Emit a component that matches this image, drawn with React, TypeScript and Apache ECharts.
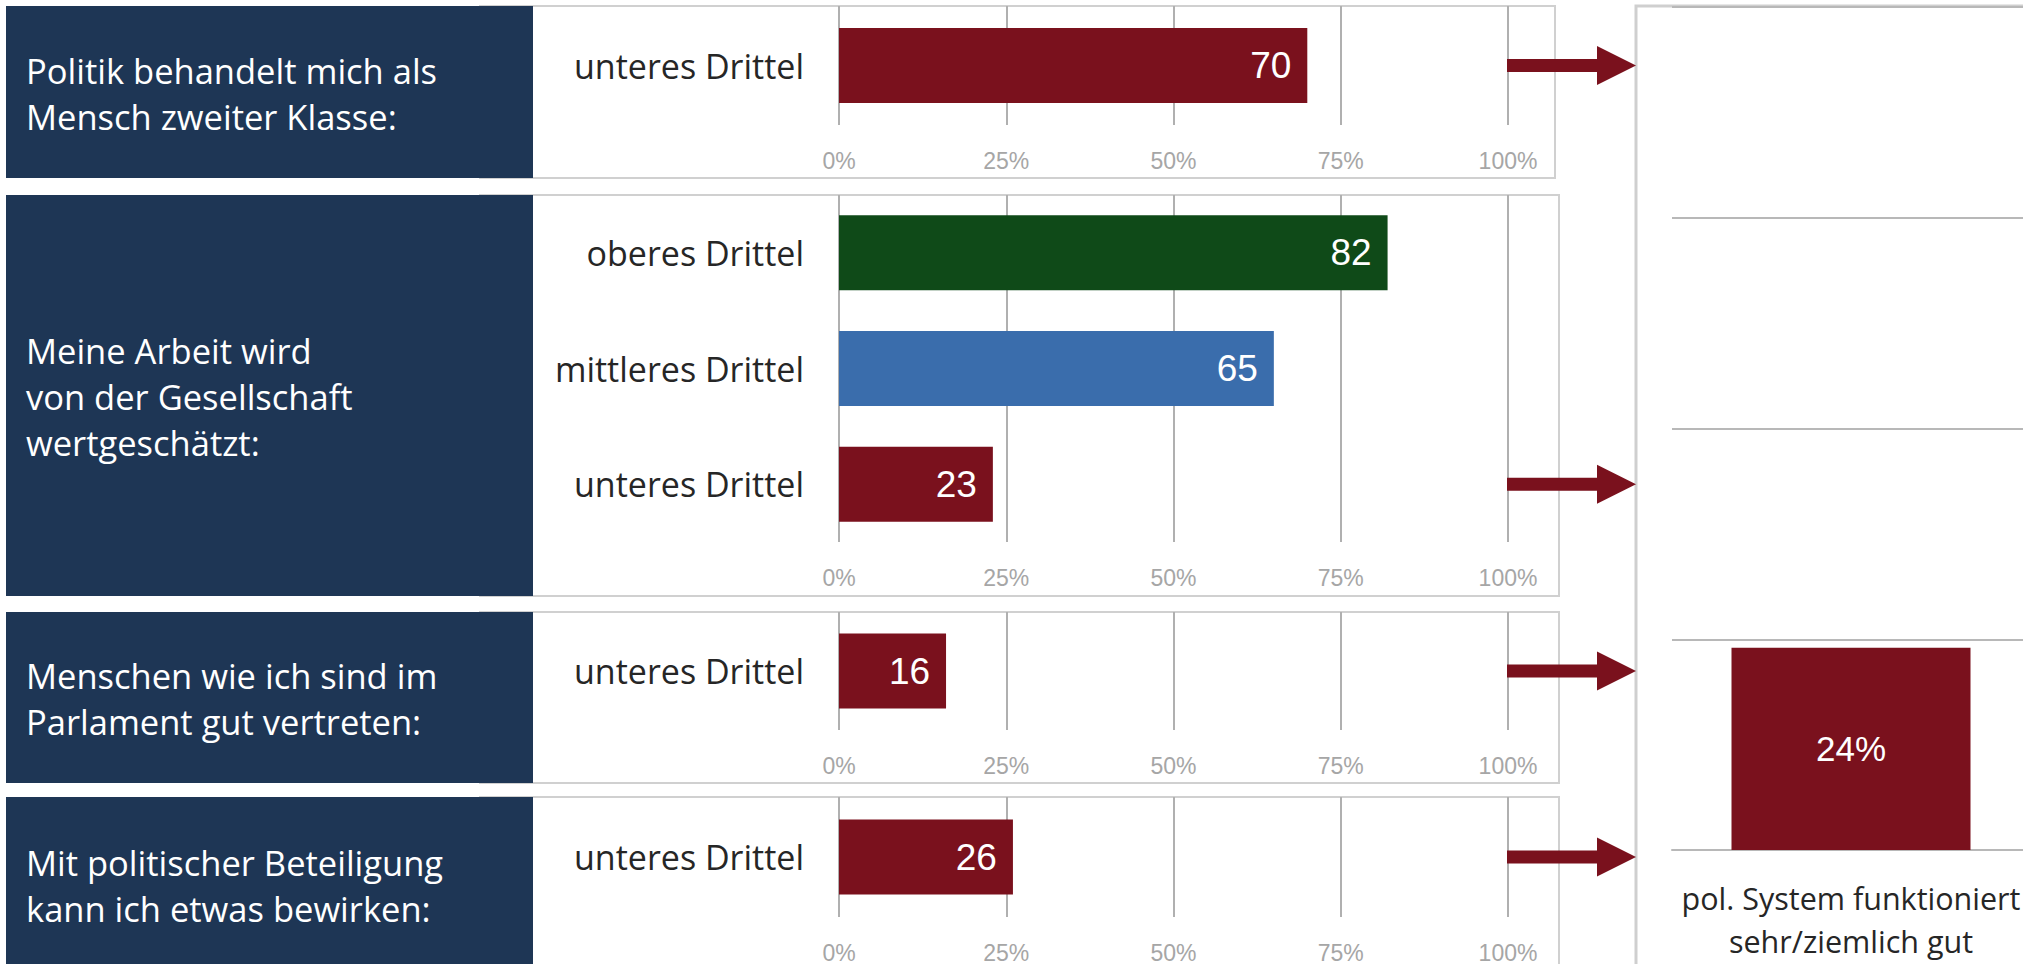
import React, { useEffect, useRef } from "react";
import * as echarts from "echarts";

// ---------- data ----------
const panelTitles: string[][] = [
  ["Politik behandelt mich als", "Mensch zweiter Klasse:"],
  ["Meine Arbeit wird", "von der Gesellschaft", "wertgeschätzt:"],
  ["Menschen wie ich sind im", "Parlament gut vertreten:"],
  ["Mit politischer Beteiligung", "kann ich etwas bewirken:"],
];
const panel1Categories = ["unteres Drittel"];
const panel1Values = [70];
const panel2Categories = ["oberes Drittel", "mittleres Drittel", "unteres Drittel"];
const panel2Values = [82, 65, 23];
const panel3Categories = ["unteres Drittel"];
const panel3Values = [16];
const panel4Categories = ["unteres Drittel"];
const panel4Values = [26];
const xTickMin = 0;
const xTickMax = 100;
const xTickInterval = 25;
const rightCategories = ["pol. System funktioniert\nsehr/ziemlich gut"];
const rightValues = [24];

// ---------- styles ----------
const RED = "#7a111d";
const GREEN = "#0f4a18";
const BLUE = "#3a6dac";
const NAVY = "#1e3655";
const groupColor: Record<string, string> = {
  "oberes Drittel": GREEN,
  "mittleres Drittel": BLUE,
  "unteres Drittel": RED,
};

const panels = [
  { top: 6, bottom: 178, plotH: 119, cats: panel1Categories, vals: panel1Values },
  { top: 195, bottom: 596, plotH: 347, cats: panel2Categories, vals: panel2Values },
  { top: 612, bottom: 783, plotH: 118, cats: panel3Categories, vals: panel3Values },
  { top: 797, bottom: 980, plotH: 120, cats: panel4Categories, vals: panel4Values },
];

const W = 2023;
const H = 964;
const CANVAS_W = 2140; // wider drawing surface; the page clips it at 2023
const PLOT_LEFT = 839;
const PLOT_W = 669;
const SANS = "Open Sans, Noto Sans, sans-serif";
const ARIAL = "Liberation Sans, Arial, sans-serif";

export default function App() {
  const ref = useRef<HTMLDivElement>(null);

  useEffect(() => {
    if (!ref.current) return;
    const chart = echarts.init(ref.current, null, { renderer: "svg", width: CANVAS_W, height: H });

    const grids: any[] = [];
    const xAxes: any[] = [];
    const yAxes: any[] = [];
    const series: any[] = [];

    panels.forEach((p, i) => {
      grids.push({ left: PLOT_LEFT, width: PLOT_W, top: p.top, height: p.plotH, containLabel: false });
      xAxes.push({
        type: "value",
        gridIndex: i,
        min: xTickMin,
        max: xTickMax,
        interval: xTickInterval,
        axisLine: { show: false },
        axisTick: { show: false },
        axisLabel: {
          formatter: "{value}%",
          color: "#a6a6a6",
          fontSize: 23,
          fontFamily: ARIAL,
          margin: 24,
        },
        splitLine: { show: true, lineStyle: { color: "#b0b0b0", width: 2 } },
      });
      yAxes.push({
        type: "category",
        gridIndex: i,
        inverse: true,
        data: p.cats,
        axisLine: { show: false },
        axisTick: { show: false },
        axisLabel: {
          color: "#262626",
          fontSize: 34,
          fontFamily: SANS,
          margin: 35,
        },
        splitLine: { show: false },
      });
      series.push({
        type: "bar",
        xAxisIndex: i,
        yAxisIndex: i,
        barWidth: 75,
        data: p.vals.map((v, k) => ({ value: v, itemStyle: { color: groupColor[p.cats[k]] } })),
        label: {
          show: true,
          position: "insideRight",
          distance: 16,
          color: "#ffffff",
          fontSize: 37,
          fontFamily: ARIAL,
          formatter: "{c}",
        },
      });
    });

    // right-hand vertical bar chart
    const ri = panels.length;
    grids.push({ left: 1672, width: 358, top: 7, height: 843, containLabel: false });
    xAxes.push({
      type: "category",
      gridIndex: ri,
      data: rightCategories,
      axisLine: { show: true, lineStyle: { color: "#b8b8b8", width: 2 } },
      axisTick: { show: false },
      axisLabel: {
        color: "#262626",
        fontSize: 30.5,
        lineHeight: 43,
        fontFamily: SANS,
        margin: 26,
        interval: 0,
      },
    });
    yAxes.push({
      type: "value",
      gridIndex: ri,
      min: 0,
      max: 100,
      interval: 25,
      axisLine: { show: false },
      axisTick: { show: false },
      axisLabel: { show: false },
      splitLine: { show: true, lineStyle: { color: "#b8b8b8", width: 2 } },
    });
    series.push({
      type: "bar",
      xAxisIndex: ri,
      yAxisIndex: ri,
      barWidth: 239,
      data: rightValues,
      itemStyle: { color: RED },
      label: {
        show: true,
        position: "inside",
        color: "#ffffff",
        fontSize: 35,
        fontFamily: ARIAL,
        formatter: "{c}%",
      },
    });

    const baseGraphics: any[] = [];
    // white chart frames
    panels.forEach((p, i) => {
      baseGraphics.push({
        type: "rect",
        z: -10,
        silent: true,
        shape: { x: 480, y: p.top, width: (i === 0 ? 1555 : 1559) - 480, height: p.bottom - p.top },
        style: { fill: "#ffffff", stroke: "#d0d0d0", lineWidth: 2 },
      });
    });
    // right frame
    baseGraphics.push({
      type: "rect",
      z: -10,
      silent: true,
      shape: { x: 1636, y: 6, width: 600, height: 1100 },
      style: { fill: "#ffffff", stroke: "#cfcfcf", lineWidth: 3 },
    });
    // navy title boxes + text
    panels.forEach((p, i) => {
      baseGraphics.push({
        type: "rect",
        z: 5,
        silent: true,
        shape: { x: 6, y: p.top, width: 527, height: p.bottom - p.top },
        style: { fill: NAVY },
      });
      baseGraphics.push({
        type: "text",
        z: 6,
        silent: true,
        x: 26,
        y: (p.top + Math.min(p.bottom, 971)) / 2 + 1,
        style: {
          text: panelTitles[i].join("\n"),
          fill: "#ffffff",
          fontSize: 34.5,
          lineHeight: 46,
          fontFamily: SANS,
          verticalAlign: "middle",
          align: "left",
        },
      });
    });

    chart.setOption({
      animation: false,
      backgroundColor: "#ffffff",
      grid: grids,
      xAxis: xAxes,
      yAxis: yAxes,
      series,
      graphic: baseGraphics,
    });

    // arrows at the "unteres Drittel" bar of each panel
    const arrows: any[] = [];
    panels.forEach((p, i) => {
      const y = chart.convertToPixel({ yAxisIndex: i } as any, "unteres Drittel") as any as number;
      const x0 = 1507;
      const x1 = 1597;
      const x2 = 1636;
      const t = 6.5;
      const h = 19.5;
      arrows.push({
        type: "polygon",
        z: 20,
        silent: true,
        shape: {
          points: [
            [x0, y - t],
            [x1, y - t],
            [x1, y - h],
            [x2, y],
            [x1, y + h],
            [x1, y + t],
            [x0, y + t],
          ],
        },
        style: { fill: RED },
      });
    });
    chart.setOption({ graphic: [...baseGraphics, ...arrows] });

    return () => chart.dispose();
  }, []);

  return (
    <div style={{ position: "absolute", left: 0, top: 0, width: W, height: H, overflow: "hidden", background: "#fff" }}>
      <div ref={ref} style={{ width: CANVAS_W, height: H }} />
    </div>
  );
}
